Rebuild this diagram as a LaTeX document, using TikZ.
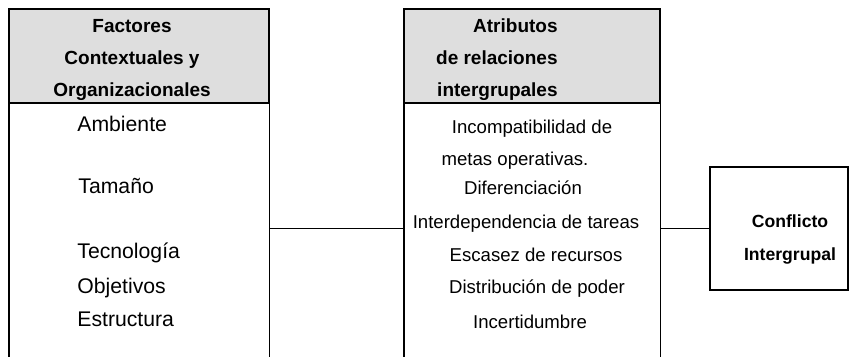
\documentclass[tikz,border=0pt]{standalone}
\usepackage{fontspec}
\setmainfont{Liberation Sans}
\usetikzlibrary{positioning}
\tikzset{
  box/.style={draw, line width=0.9pt},
  headbox/.style={box, fill=black!13},
  headtext/.style={font=\bfseries\fontsize{9.5}{16}\selectfont, align=center, inner sep=0pt},
  leftitem/.style={anchor=west, font=\fontsize{10.6}{12}\selectfont, inner sep=0pt, text height=1.6ex, text depth=0.4ex},
  miditem/.style={font=\fontsize{9.3}{11}\selectfont, inner sep=0pt, text height=1.6ex, text depth=0.4ex},
  link/.style={line width=0.9pt}
}

\begin{document}
\begin{tikzpicture}[x=0.5pt, y=-0.5pt]
  \useasboundingbox (0,0) rectangle (849,357);

  % left column: contextual and organisational factors
  \node[headbox, minimum width=130pt, minimum height=47pt, inner sep=0pt] (facHead) at (139,56) {};
  \node[headtext] (facTitle) at (132,60) {Factores\\Contextuales y\\Organizacionales};
  \node[minimum width=130pt, minimum height=127pt, inner sep=0pt] (facBody) at (139,230) {};
  \draw[box] (facBody.north west) -- (facBody.south west);
  \draw[box] (facBody.north east) -- (facBody.south east);

  \node[leftitem] (ambiente) at (77,125) {Ambiente};
  \node[leftitem] (tamano) at (78,187) {Tamaño};
  \node[leftitem] (tecnologia) at (77,252) {Tecnología};
  \node[leftitem] (objetivos) at (77,287) {Objetivos};
  \node[leftitem] (estructura) at (77,320) {Estructura};

  % middle column: attributes of intergroup relations
  \node[headbox, minimum width=128pt, minimum height=47pt, inner sep=0pt] (atrHead) at (532,56) {};
  \node[headtext, align=right, anchor=east] (atrTitle) at (558,60) {Atributos\\de relaciones\\intergrupales};
  \node[minimum width=128pt, minimum height=127pt, inner sep=0pt] (atrBody) at (532,230) {};
  \draw[box] (atrBody.north west) -- (atrBody.south west);
  \draw[box] (atrBody.north east) -- (atrBody.south east);

  \node[miditem] (incompat) at (532,127) {Incompatibilidad de};
  \node[miditem] (metas) at (515,159) {metas operativas.};
  \node[miditem] (diferen) at (523,188) {Diferenciación};
  \node[miditem] (interdep) at (526,222) {Interdependencia de tareas};
  \node[miditem] (escasez) at (536,255) {Escasez de recursos};
  \node[miditem] (poder) at (537,287) {Distribución de poder};
  \node[miditem] (incert) at (530,322) {Incertidumbre};

  % right box: the outcome
  \node[box, minimum width=69pt, minimum height=61.5pt, inner sep=0pt] (conf) at (779,228.5) {};
  \node[font=\bfseries\fontsize{8.8}{16.5}\selectfont, align=center, inner sep=0pt] (confTitle) at (790,239) {Conflicto\\Intergrupal};

  % connect the three blocks
  \draw[link] (facBody.east |- conf.west) -- (atrBody.west |- conf.west);
  \draw[link] (atrBody.east |- conf.west) -- (conf.west);

\end{tikzpicture}
\end{document}
